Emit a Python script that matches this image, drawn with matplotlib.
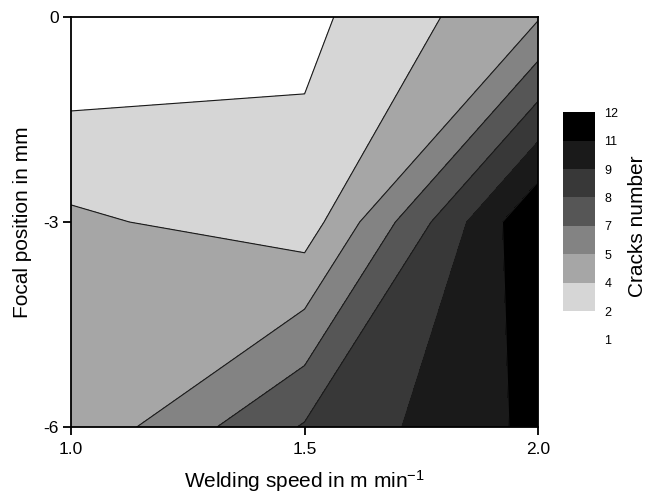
import numpy as np
import matplotlib
matplotlib.use("Agg")
import matplotlib.pyplot as plt
from matplotlib.colors import ListedColormap, BoundaryNorm

plt.rcParams['font.family'] = ['Liberation Sans', 'DejaVu Sans']
plt.rcParams['mathtext.default'] = 'regular'

# Data (grid of crack numbers)
welding_speed = [1.0, 1.5, 2.0]
focal_position = [-6, -3, 0]
cracks = [
    [4, 8, 11],   # focal -6
    [4, 3, 12],   # focal -3
    [1, 2, 5],    # focal 0
]
levels = list(np.linspace(1, 12, 9))
level_labels = ['1', '2', '4', '5', '7', '8', '9', '11', '12']
band_colors = ['#ffffff', '#d6d6d6', '#a6a6a6', '#838383', '#565656',
               '#383838', '#1a1a1a', '#000000']

X, Y = np.meshgrid(welding_speed, focal_position)
Z = np.array(cracks, dtype=float)

fig = plt.figure(figsize=(6.46, 4.97), dpi=100)
ax = fig.add_axes([0.110, 0.1408, 0.723, 0.825])

cmap = ListedColormap(band_colors)
norm = BoundaryNorm(levels, cmap.N)
cs = ax.contourf(X, Y, Z, levels=levels, cmap=cmap, norm=norm)
ax.contour(X, Y, Z, levels=levels[1:-1], colors='#1a1a1a', linewidths=0.8)

ax.set_xlim(1.0, 2.0)
ax.set_ylim(-6, 0)
ax.set_xticks([1.0, 1.5, 2.0])
ax.set_xticklabels(['1.0', '1.5', '2.0'])
ax.set_yticks([-6, -3, 0])
ax.set_yticklabels(['-6', '-3', '0'])
ax.tick_params(direction='out', length=6, width=1.3, labelsize=12.5)
ax.tick_params(axis='x', pad=5)
ax.tick_params(axis='y', pad=3)
for s in ax.spines.values():
    s.set_linewidth(1.3)
ax.set_xlabel('Welding speed in m min$^{-1}$', fontsize=15, labelpad=8)
ax.set_ylabel('Focal position in mm', fontsize=15, labelpad=8)

cax = fig.add_axes([0.8715, 0.316, 0.049, 0.4586])
cb = fig.colorbar(cs, cax=cax, ticks=levels)
cb.outline.set_visible(False)
cb.ax.set_yticklabels(level_labels)
cb.ax.tick_params(length=0, labelsize=9, pad=7)
cb.set_label('Cracks number', fontsize=15, labelpad=7)

fig.savefig('out.png', dpi=100)
